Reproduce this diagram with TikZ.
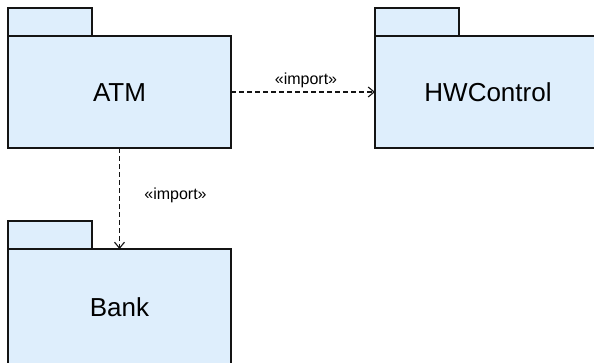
\documentclass[tikz,border=0pt]{standalone}
\usepackage{fontspec}
\setmainfont{Liberation Sans}
\usetikzlibrary{arrows.meta}
\definecolor{pkgfill}{RGB}{222,238,252}
\definecolor{pkgline}{RGB}{20,20,20}
\tikzset{
  pkgbody/.style={draw=pkgline, fill=pkgfill, line width=1.2pt, inner sep=0pt, outer sep=0pt,
    font=\fontsize{26}{30}\selectfont},
  pkgtab/.style={draw=pkgline, fill=pkgfill, line width=1.2pt, inner sep=0pt, outer sep=0pt,
    minimum width=84pt, minimum height=28pt},
  dep/.style={draw=pkgline, line width=1.1pt, dash pattern=on 5pt off 3pt,
    -{Straight Barb[length=6pt,width=10pt,line width=1.1pt]}},
  deplabel/.style={font=\fontsize{16}{19}\selectfont, inner sep=0pt}
}
\begin{document}
\begin{tikzpicture}[x=1pt,y=-1pt]
\useasboundingbox (0,0) rectangle (594,362);
\clip (0,0) rectangle (594,362);
% ATM
\node[pkgtab] (atmtab) at (50,22) {};
\node[pkgbody, minimum width=223pt, minimum height=112pt] (atm) at (119.5,92) {};
\node[font=\fontsize{26}{30}\selectfont] (atmtxt) at (119.5,92.5) {ATM};
% HWControl
\node[pkgtab] (hwtab) at (417,22) {};
\node[pkgbody, minimum width=223pt, minimum height=112pt] (hw) at (486.5,92) {};
\node[font=\fontsize{26}{30}\selectfont] (hwtxt) at (488,92.5) {HWControl};
% Bank
\node[pkgtab] (banktab) at (50,235) {};
\node[pkgbody, minimum width=223pt, minimum height=118pt] (bank) at (119.5,308) {};
\node[font=\fontsize{26}{30}\selectfont] (banktxt) at (119.5,307.5) {Bank};
% dependencies
\draw[dep] (atm.east) -- (hw.west);
\draw[dep] (atm.south) -- (bank.north);
\node[deplabel] (lbl1) at (306,80.5) {«import»};
\node[deplabel] (lbl2) at (175.5,195) {«import»};
\end{tikzpicture}
\end{document}
